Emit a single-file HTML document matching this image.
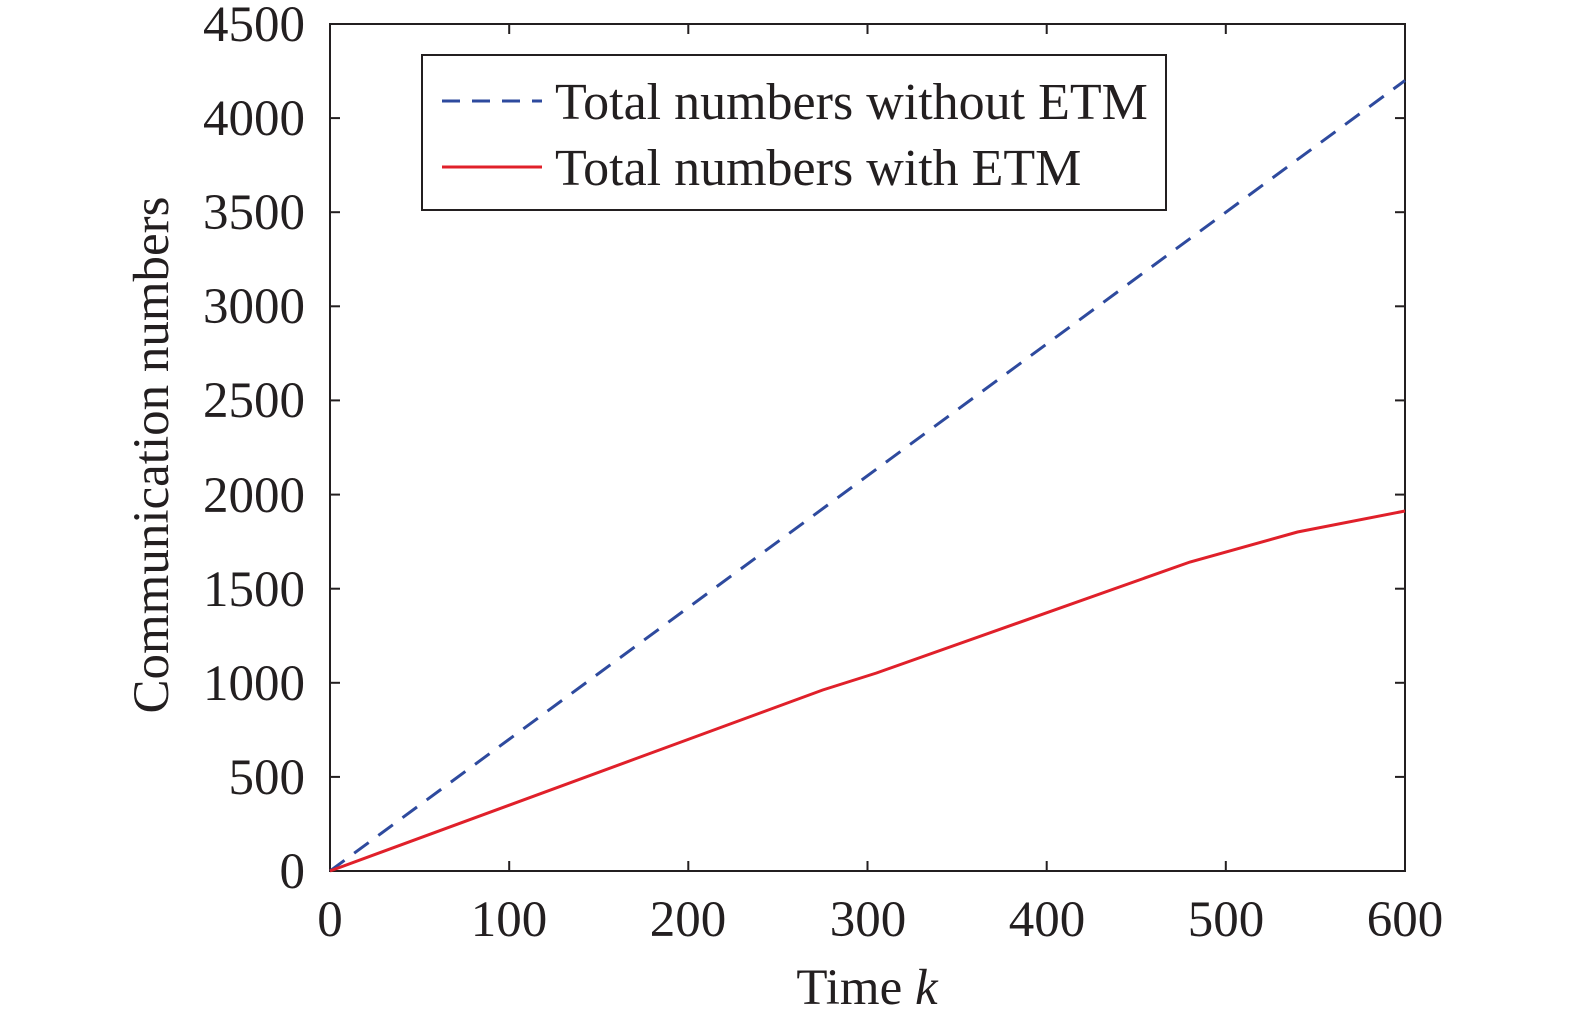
<!DOCTYPE html>
<html><head><style>body{margin:0;background:#fff}svg{display:block}</style></head><body>
<svg width="1575" height="1025" viewBox="0 0 1575 1025" xmlns="http://www.w3.org/2000/svg" font-family="'Liberation Serif',serif" fill="#231f20">
<rect x="330" y="24" width="1075" height="847" fill="none" stroke="#231f20" stroke-width="2"/>
<g stroke="#231f20" stroke-width="2">
<line x1="509.2" y1="871" x2="509.2" y2="861"/><line x1="688.3" y1="871" x2="688.3" y2="861"/><line x1="867.5" y1="871" x2="867.5" y2="861"/><line x1="1046.7" y1="871" x2="1046.7" y2="861"/><line x1="1225.8" y1="871" x2="1225.8" y2="861"/>
<line x1="509.2" y1="24" x2="509.2" y2="34"/><line x1="688.3" y1="24" x2="688.3" y2="34"/><line x1="867.5" y1="24" x2="867.5" y2="34"/><line x1="1046.7" y1="24" x2="1046.7" y2="34"/><line x1="1225.8" y1="24" x2="1225.8" y2="34"/>
<line x1="330" y1="776.9" x2="340" y2="776.9"/><line x1="330" y1="682.8" x2="340" y2="682.8"/><line x1="330" y1="588.7" x2="340" y2="588.7"/><line x1="330" y1="494.6" x2="340" y2="494.6"/><line x1="330" y1="400.4" x2="340" y2="400.4"/><line x1="330" y1="306.3" x2="340" y2="306.3"/><line x1="330" y1="212.2" x2="340" y2="212.2"/><line x1="330" y1="118.1" x2="340" y2="118.1"/>
<line x1="1405" y1="776.9" x2="1395" y2="776.9"/><line x1="1405" y1="682.8" x2="1395" y2="682.8"/><line x1="1405" y1="588.7" x2="1395" y2="588.7"/><line x1="1405" y1="494.6" x2="1395" y2="494.6"/><line x1="1405" y1="400.4" x2="1395" y2="400.4"/><line x1="1405" y1="306.3" x2="1395" y2="306.3"/><line x1="1405" y1="212.2" x2="1395" y2="212.2"/><line x1="1405" y1="118.1" x2="1395" y2="118.1"/>
</g>
<g font-size="51" text-anchor="end">
<text x="305" y="888">0</text><text x="305" y="794">500</text><text x="305" y="700">1000</text><text x="305" y="606">1500</text><text x="305" y="512">2000</text><text x="305" y="417">2500</text><text x="305" y="323">3000</text><text x="305" y="229">3500</text><text x="305" y="135">4000</text><text x="305" y="41">4500</text>
</g>
<g font-size="51" text-anchor="middle">
<text x="330" y="936">0</text><text x="509" y="936">100</text><text x="688" y="936">200</text><text x="868" y="936">300</text><text x="1047" y="936">400</text><text x="1226" y="936">500</text><text x="1405" y="936">600</text>
<text x="867" y="1004">Time <tspan font-style="italic">k</tspan></text>
<text transform="translate(168,455) rotate(-90)">Communication numbers</text>
</g>
<line x1="330" y1="871" x2="1405" y2="80.5" stroke="#2e4a9e" stroke-width="3" stroke-dasharray="18,12"/>
<polyline points="330,871 822.7,690 876.5,673 1190,562 1297.5,532 1405,511" fill="none" stroke="#e0202a" stroke-width="3"/>
<rect x="422" y="55" width="744" height="155" fill="#fff" stroke="#231f20" stroke-width="2"/>
<line x1="442" y1="101" x2="542" y2="101" stroke="#2e4a9e" stroke-width="3" stroke-dasharray="18,12"/>
<line x1="442" y1="167" x2="542" y2="167" stroke="#e0202a" stroke-width="3"/>
<g font-size="52"><text x="555" y="119">Total numbers without ETM</text><text x="555" y="185">Total numbers with ETM</text></g>
</svg>
</body></html>
